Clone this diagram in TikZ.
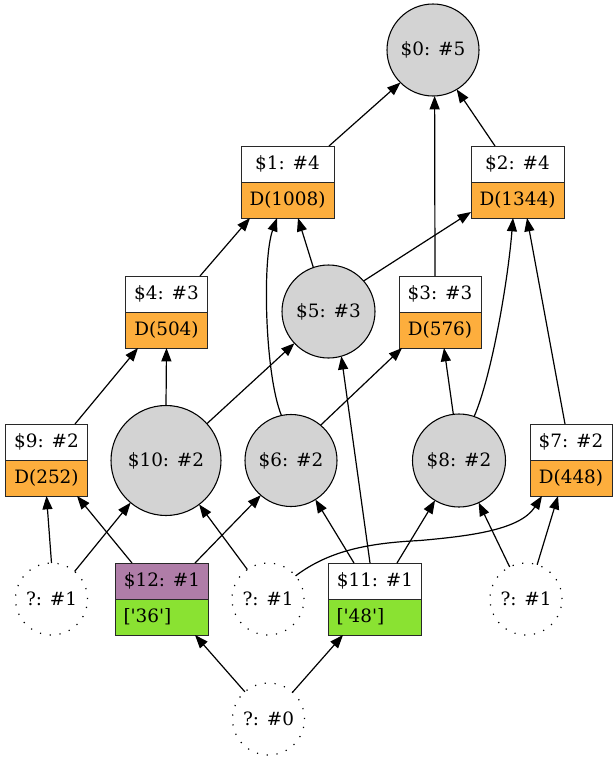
\documentclass[tikz,border=0pt]{standalone}
\usepackage{fontspec}
\setmainfont{DejaVu Serif}[Ligatures=TeXOff]
\usetikzlibrary{arrows.meta,calc}
\definecolor{recorange}{RGB}{253,174,61}
\definecolor{recgreen}{RGB}{138,226,50}
\definecolor{recpurple}{RGB}{175,125,168}
\definecolor{circgray}{RGB}{211,211,211}
\definecolor{borderc}{RGB}{40,40,40}
\begin{document}
\begin{tikzpicture}[x=0.75pt,y=-0.75pt,
  every node/.style={font=\fontsize{13.8pt}{16pt}\selectfont, inner sep=0pt, outer sep=0pt},
  circ/.style={circle, draw, line width=0.8pt, fill=circgray},
  qcirc/.style={circle, draw, line width=0.9pt, dash pattern=on 0.9pt off 6.5pt, minimum size=54pt},
  rtop/.style={rectangle, draw=borderc, line width=0.75pt, fill=white, minimum height=27pt},
  rbot/.style={rectangle, draw=borderc, line width=0.75pt, fill=recorange, minimum height=27pt},
  rgreen/.style={rectangle, draw=borderc, line width=0.75pt, fill=recgreen, minimum height=27pt, align=left, inner xsep=6pt, text width=57.75pt},
  wide/.style={minimum width=69.75pt},
  narrow/.style={minimum width=61.5pt},
  conn/.style={line width=0.9pt, -{Triangle[length=10pt,width=7.5pt]}}
]
\useasboundingbox (0,0) rectangle (616,760);

\node[circ, minimum size=69pt] (n0) at (433,50) {\$0: \#5};
\node[rtop, wide] (r1t) at (287.5,164) {\$1: \#4};
\node[rbot, wide] (r1b) at (287.5,200) {D(1008)};
\node[rtop, wide] (r2t) at (517.5,164) {\$2: \#4};
\node[rbot, wide] (r2b) at (517.5,200) {D(1344)};
\node[rtop, narrow] (r4t) at (166.5,294) {\$4: \#3};
\node[rbot, narrow] (r4b) at (166.5,330) {D(504)};
\node[circ, minimum size=69.75pt] (n5) at (328.5,311.5) {\$5: \#3};
\node[rtop, narrow] (r3t) at (440,294) {\$3: \#3};
\node[rbot, narrow] (r3b) at (440,330) {D(576)};
\node[rtop, narrow] (r9t) at (46.5,442) {\$9: \#2};
\node[rbot, narrow] (r9b) at (46.5,478) {D(252)};
\node[circ, minimum size=82.5pt] (n10) at (166,460.5) {\$10: \#2};
\node[circ, minimum size=69pt] (n6) at (291,460.5) {\$6: \#2};
\node[circ, minimum size=69.75pt] (n8) at (459,460.5) {\$8: \#2};
\node[rtop, narrow] (r7t) at (571,442) {\$7: \#2};
\node[rbot, narrow] (r7b) at (571,478) {D(448)};
\node[qcirc] (q1) at (51.5,599) {?: \#1};
\node[rtop, wide, fill=recpurple] (r12t) at (162,581) {\$12: \#1};
\node[rgreen, wide] (r12b) at (162,617) {['36']};
\node[qcirc] (q2) at (268,599) {?: \#1};
\node[rtop, wide] (r11t) at (375,581) {\$11: \#1};
\node[rgreen, wide] (r11b) at (375,617) {['48']};
\node[qcirc] (q3) at (526,599) {?: \#1};
\node[qcirc] (q0) at (268.5,719) {?: \#0};

\draw[conn] ($(r1t.north)+(41.5,0)$) -- (n0.225);
\draw[conn] ($(r3t.north)+(-5,0)$) -- (n0.272);
\draw[conn] ($(r2t.north)+(-22.5,0)$) -- (n0.301);
\draw[conn] ($(r4t.north)+(33.5,0)$) -- ($(r1b.south)+(-37.5,0)$);
\draw[conn] (n5.109) -- ($(r1b.south)+(10.5,0)$);
\draw[conn] (n6.102) .. controls (265,375) and (262,260) .. ($(r1b.south)+(-10.5,0)$);
\draw[conn] (n5.41) -- ($(r2b.south west)+(0,-6)$);
\draw[conn] (n8.71) .. controls (492,375) and (508,280) .. ($(r2b.south)+(-4.5,0)$);
\draw[conn] ($(r7t.north)+(-6,0)$) -- ($(r2b.south)+(9.5,0)$);
\draw[conn] ($(r9t.north)+(28.5,0)$) -- ($(r4b.south)+(-28.5,0)$);
\draw[conn] (n10.90) -- (r4b.south);
\draw[conn] (n10.42) -- (n5.223);
\draw[conn] ($(r11t.north)+(-5,0)$) -- (n5.286);
\draw[conn] (n6.50) -- ($(r3b.south)+(-38,0)$);
\draw[conn] (n8.97) -- ($(r3b.south)+(4,0)$);
\draw[conn] (q1.90) -- (r9b.south);
\draw[conn] ($(r12t.north)+(-30,0)$) -- ($(r9b.south)+(30.5,0)$);
\draw[conn] (q1.50) -- (n10.230);
\draw[conn] ($(r12t.north)+(33,0)$) -- (n6.229);
\draw[conn] (q2.125) -- (n10.307);
\draw[conn] (q2.40) .. controls (330,550) and (370,543) .. (420,540.5) .. controls (470,536) and (520,530) .. ($(r7b.south)+(-29,0)$);
\draw[conn] ($(r11t.north)+(-21,0)$) -- (n6.302);
\draw[conn] ($(r11t.north)+(22,0)$) -- (n8.239);
\draw[conn] (q3.117) -- (n8.295);
\draw[conn] (q3.72) -- ($(r7b.south)+(-13,0)$);
\draw[conn] (q0.131) -- ($(r12b.south)+(33,0)$);
\draw[conn] (q0.48) -- ($(r11b.south)+(-32,0)$);
\end{tikzpicture}
\end{document}
